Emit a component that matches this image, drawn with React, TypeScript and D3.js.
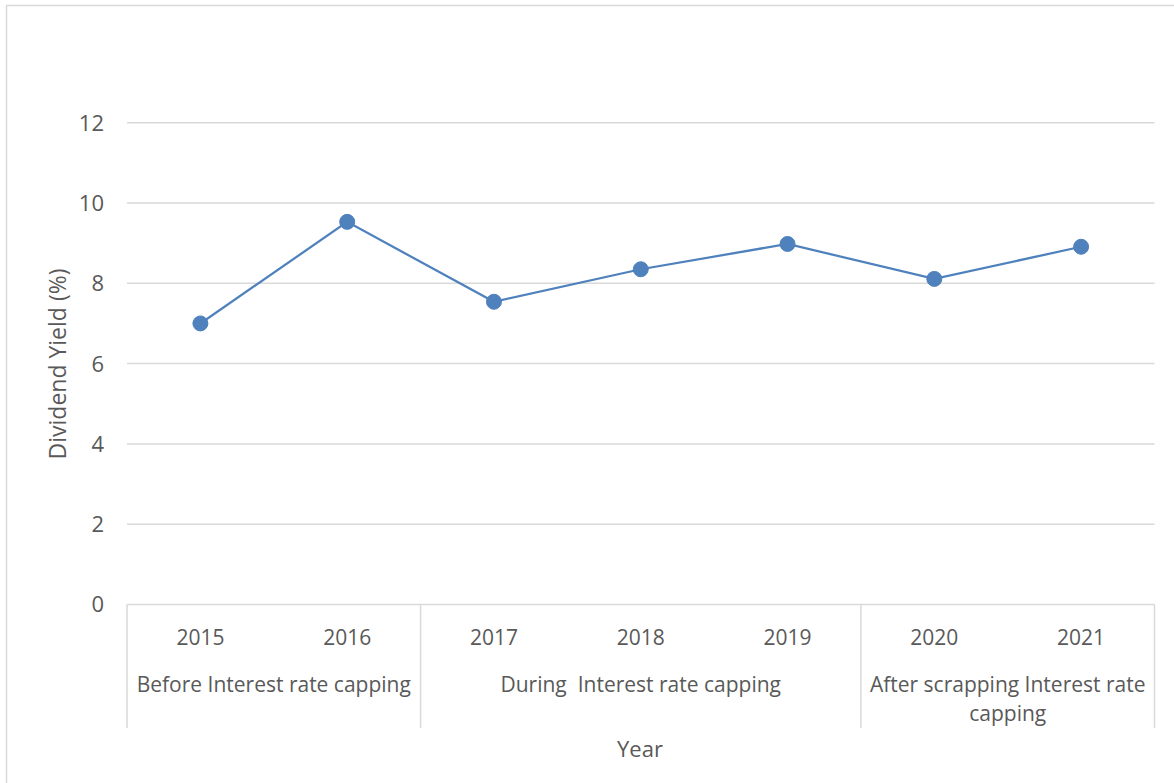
import React from "react";
import * as d3 from "d3";

const years: string[] = ["2015", "2016", "2017", "2018", "2019", "2020", "2021"];
const dividendYield: number[] = [7.0, 9.53, 7.54, 8.35, 8.98, 8.11, 8.91];
const groupLabels: string[][] = [
  ["Before Interest rate capping"],
  ["During  Interest rate capping"],
  ["After scrapping Interest rate", "capping"],
];
const groupSizes: number[] = [2, 3, 2];
const yTicks: number[] = [0, 2, 4, 6, 8, 10, 12];

const W = 1174;
const H = 783;
const FONT = "'Open Sans', 'Noto Sans', sans-serif";
const TXT = "#595959";
const GRID = "#d9d9d9";
const BLUE = "#4f81bd";

export default function App() {
  const left = 127;
  const right = 1154.5;
  const x = d3.scaleBand<string>().domain(years).range([left, right]).padding(0);
  const y = d3.scaleLinear().domain([0, 12]).range([604.5, 122.7]);
  const line = d3
    .line<number>()
    .x((_, i) => (x(years[i]) as number) + x.bandwidth() / 2)
    .y((d) => y(d));

  const bounds: number[] = [left];
  let idx = 0;
  groupSizes.forEach((s) => {
    idx += s;
    bounds.push(idx < years.length ? (x(years[idx]) as number) : right);
  });

  return (
    <svg
      width={W}
      height={H}
      style={{ position: "absolute", left: 0, top: 0, background: "#fff" }}
      fontFamily={FONT}
    >
      <rect x={6.5} y={5.5} width={1170} height={800} fill="#fff" stroke={GRID} strokeWidth={1.5} />
      {yTicks.map((t) => (
        <g key={t}>
          <line x1={left} x2={right} y1={y(t)} y2={y(t)} stroke={GRID} strokeWidth={1.5} />
          <text x={104} y={y(t)} dy="0.36em" textAnchor="end" fontSize={22} fill={TXT}>
            {t}
          </text>
        </g>
      ))}
      {bounds.map((b, i) => (
        <line key={i} x1={b} x2={b} y1={y(0)} y2={728} stroke={GRID} strokeWidth={1.5} />
      ))}
      {years.map((yr) => (
        <text
          key={yr}
          x={(x(yr) as number) + x.bandwidth() / 2}
          y={645}
          textAnchor="middle"
          fontSize={21}
          fill={TXT}
        >
          {yr}
        </text>
      ))}
      {groupLabels.map((lines, i) => (
        <text
          key={i}
          x={(bounds[i] + bounds[i + 1]) / 2}
          y={692}
          textAnchor="middle"
          fontSize={21}
          fill={TXT}
        >
          {lines.map((l, j) => (
            <tspan key={j} x={(bounds[i] + bounds[i + 1]) / 2} dy={j === 0 ? 0 : 29} style={{ whiteSpace: "pre" }}>
              {l}
            </tspan>
          ))}
        </text>
      ))}
      <text x={640} y={757} textAnchor="middle" fontSize={22} fill={TXT}>
        Year
      </text>
      <text
        transform={`translate(66,364) rotate(-90)`}
        textAnchor="middle"
        fontSize={23}
        fill={TXT}
      >
        Dividend Yield (%)
      </text>
      <path d={line(dividendYield) || ""} fill="none" stroke={BLUE} strokeWidth={2.25} />
      {dividendYield.map((v, i) => (
        <circle
          key={i}
          cx={(x(years[i]) as number) + x.bandwidth() / 2}
          cy={y(v)}
          r={7.5}
          fill={BLUE}
          stroke={BLUE}
        />
      ))}
    </svg>
  );
}
